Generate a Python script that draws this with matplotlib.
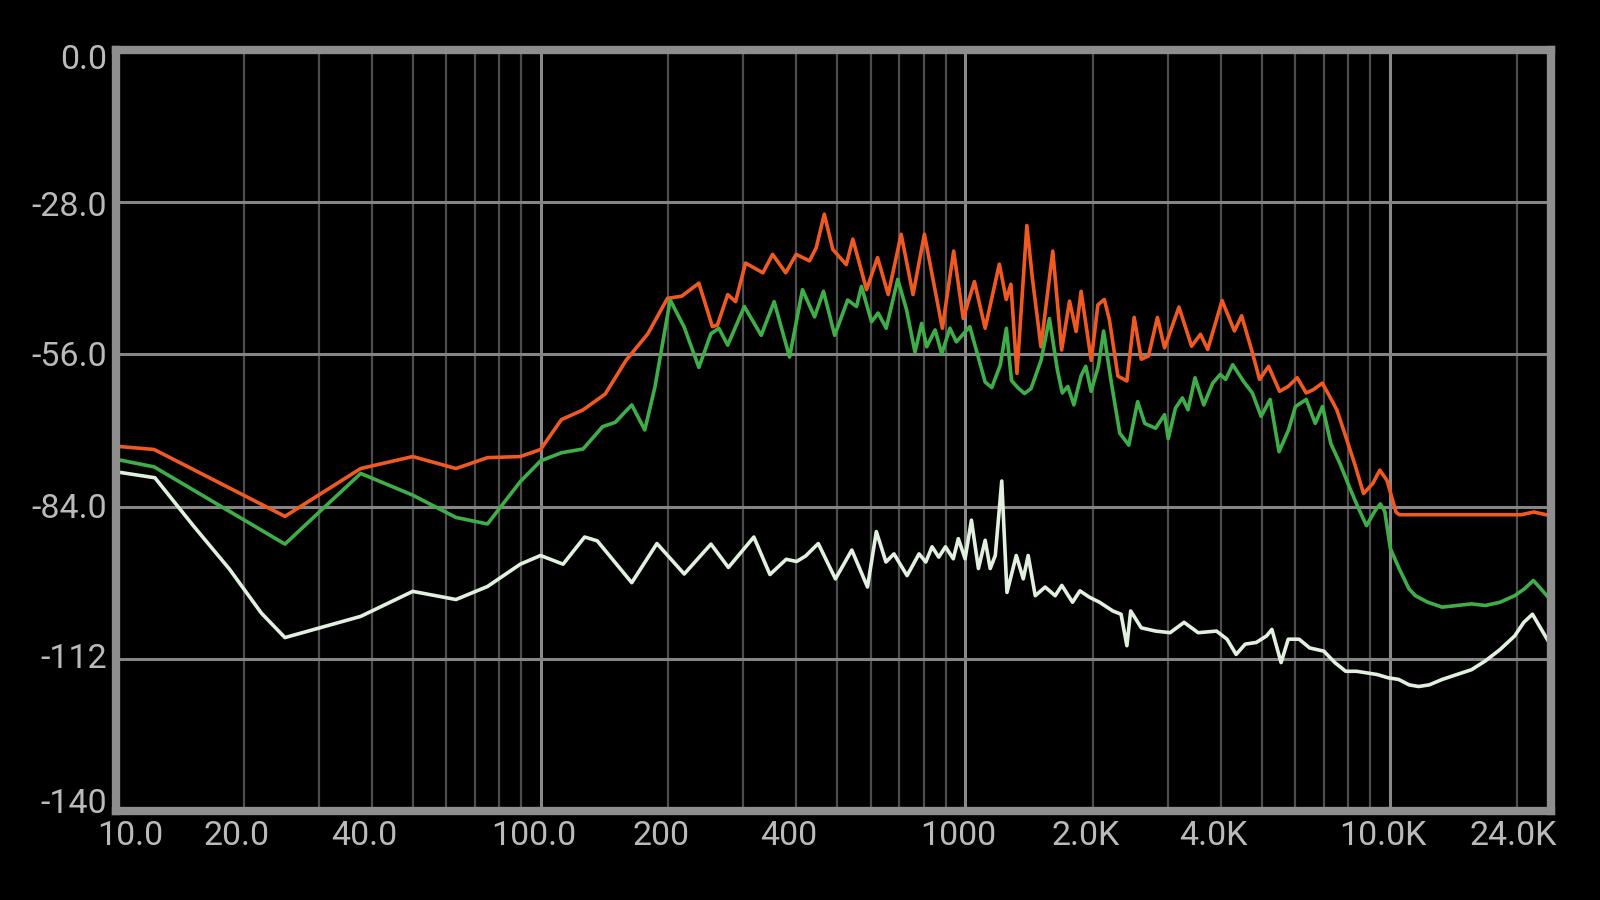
import matplotlib
matplotlib.use("Agg")
import matplotlib.pyplot as plt

# spectrum traces: frequency (Hz) and level (dB)
red_hz = [10, 12.3, 25, 37.7, 50, 63.2, 75, 89.6, 100, 112, 126, 142, 159, 179, 199, 215, 236, 254, 261, 276,
          288, 304, 334, 352, 378, 400, 430, 446, 466, 488, 525, 544, 586, 622, 659, 707, 754, 802, 884, 940,
          990, 1052, 1115, 1204, 1250, 1282, 1325, 1398, 1440, 1509, 1609, 1688, 1762, 1826, 1876, 1982, 2055,
          2128, 2187, 2291, 2405, 2502, 2600, 2704, 2838, 2950, 3190, 3416, 3585, 3728, 4030, 4309, 4482, 4751,
          4938, 5188, 5505, 5768, 6057, 6360, 6609, 6940, 7220, 7510, 7880, 8270, 8680, 9120, 9480, 9860,
          10350, 10540, 20400, 21860, 24000]
red_db = [-72.9, -73.5, -85.8, -77.0, -74.8, -77.0, -75.0, -74.8, -73.5, -68.0, -66.2, -63.3, -57.1, -52.2,
          -45.7, -45.3, -42.9, -50.9, -50.6, -45.0, -46.3, -39.2, -41.0, -37.6, -41.0, -37.6, -38.8, -36.4,
          -30.2, -36.7, -39.5, -34.8, -44.1, -38.2, -45.0, -33.9, -45.0, -33.9, -51.2, -37.0, -49.4, -42.6,
          -51.2, -39.4, -45.9, -43.1, -59.5, -32.3, -41.9, -54.6, -37.0, -55.2, -46.2, -51.8, -44.4, -57.1,
          -46.9, -45.9, -49.6, -60.0, -60.9, -49.2, -56.9, -56.3, -49.2, -54.8, -47.3, -54.5, -52.3, -55.1,
          -46.1, -51.7, -48.9, -55.7, -60.6, -58.2, -62.8, -61.9, -60.3, -63.1, -62.5, -61.3, -63.7, -66.2,
          -71.1, -76.1, -81.6, -79.8, -77.3, -79.2, -85.0, -85.5, -85.5, -85.0, -85.7]

green_hz = [10, 12.3, 25, 37.7, 50, 63.2, 75, 89.6, 100, 112, 126, 140, 150, 164, 176, 186, 202, 218, 236,
            252, 263, 276, 302, 331, 355, 386, 414, 442, 464, 493, 529, 555, 570, 602, 624, 652, 694, 728,
            762, 790, 812, 850, 881, 921, 954, 1026, 1115, 1156, 1210, 1251, 1286, 1330, 1380, 1430, 1510,
            1580, 1650, 1694, 1746, 1804, 1875, 1924, 1981, 2060, 2120, 2204, 2314, 2430, 2550, 2650, 2810,
            2950, 3010, 3130, 3250, 3350, 3480, 3650, 3830, 3990, 4110, 4270, 4530, 4750, 4980, 5230, 5490,
            5780, 6000, 6360, 6680, 6950, 7270, 7640, 8010, 8420, 8820, 9250, 9510, 9740, 10040, 10530,
            11100, 11500, 12300, 13300, 14400, 15600, 16800, 18200, 19700, 20800, 21800, 22700, 24000]
green_db = [-75.3, -76.7, -90.9, -77.9, -81.9, -86.0, -87.2, -79.4, -75.6, -74.1, -73.4, -69.3, -68.5,
            -65.3, -69.9, -62.0, -46.0, -51.0, -58.4, -52.2, -51.2, -54.3, -47.2, -52.5, -46.3, -56.5,
            -44.1, -49.1, -44.4, -52.5, -46.0, -47.2, -43.5, -50.0, -48.4, -51.2, -42.2, -47.8, -55.6,
            -50.3, -54.6, -51.5, -55.9, -51.2, -53.7, -50.9, -61.1, -62.1, -58.0, -51.2, -60.8, -62.1,
            -63.2, -62.3, -57.1, -49.4, -58.9, -63.1, -61.9, -65.3, -60.0, -58.2, -62.8, -58.2, -51.7,
            -60.6, -70.5, -72.7, -64.7, -68.7, -69.6, -67.1, -71.5, -65.9, -64.0, -66.2, -60.3, -65.3,
            -61.3, -59.7, -60.6, -57.9, -61.0, -63.1, -67.4, -64.3, -73.9, -69.9, -65.6, -64.3, -68.7,
            -65.6, -72.4, -76.1, -80.1, -84.1, -87.5, -84.7, -83.5, -84.9, -91.7, -95.4, -99.1, -100.4,
            -101.6, -102.5, -102.2, -101.9, -102.2, -101.6, -100.4, -99.1, -97.6, -99.1, -101.3]

white_hz = [10, 12.35, 15.2, 18.5, 22, 25, 37.7, 50, 63.2, 75, 89.6, 100, 113, 127, 136, 164, 188, 218, 252,
            277, 318, 347, 379, 401, 421, 451, 495, 541, 589, 618, 651, 680, 730, 779, 808, 836, 867, 899,
            938, 964, 1000, 1035, 1075, 1115, 1146, 1178, 1220, 1255, 1320, 1371, 1408, 1463, 1544, 1630,
            1690, 1791, 1864, 1965, 2074, 2228, 2330, 2405, 2455, 2600, 2810, 3040, 3280, 3540, 3910, 4140,
            4350, 4570, 4850, 5130, 5280, 5550, 5770, 6120, 6480, 7000, 7430, 7880, 8360, 8840, 9350, 9920,
            10500, 11120, 11700, 12400, 13300, 14400, 15600, 16800, 18200, 19700, 20700, 21700, 22500, 24000]
white_db = [-77.6, -78.7, -87.5, -95.5, -103.6, -108.1, -104.2, -99.6, -101.1, -98.7, -94.6, -93.0, -94.6,
            -89.6, -90.3, -98.0, -90.8, -96.4, -90.9, -95.2, -89.6, -96.5, -93.7, -94.1, -93.1, -90.8,
            -97.3, -92.0, -98.8, -88.6, -94.2, -92.7, -96.7, -92.7, -94.2, -91.4, -93.3, -91.4, -93.6,
            -89.9, -93.6, -86.5, -95.4, -90.2, -95.4, -93.0, -79.3, -99.8, -93.0, -97.3, -93.0, -100.4,
            -98.8, -100.4, -98.5, -101.6, -99.5, -100.7, -101.6, -103.2, -103.8, -109.6, -103.2, -106.3,
            -106.9, -107.2, -105.3, -107.2, -106.9, -108.4, -111.2, -109.3, -109.0, -107.8, -106.6, -112.7,
            -108.4, -108.4, -110.0, -110.6, -112.7, -114.3, -114.3, -114.6, -114.9, -115.5, -115.8, -116.8,
            -117.1, -116.8, -115.8, -114.9, -114.0, -112.4, -110.3, -107.8, -105.3, -103.8, -105.9, -109.6]

# axis labelling
y_levels = [0, -28, -56, -84, -112, -140]
y_labels = ["0.0", "-28.0", "-56.0", "-84.0", "-112", "-140"]
x_ticks = [10, 20, 40, 100, 200, 400, 1000, 2000, 4000, 10000, 24000]
x_labels = ["10.0", "20.0", "40.0", "100.0", "200", "400", "1000", "2.0K", "4.0K", "10.0K", "24.0K"]

plt.rcParams['font.family'] = ['Roboto', 'DejaVu Sans']
txt_color = '#bababa'
frame_color = '#8e8e8e'

fig = plt.figure(figsize=(16, 9), dpi=100, facecolor='black')
ax = fig.add_axes([0.0725, 0.0989, 0.8969, 0.8456])
ax.set_facecolor('black')
ax.set_xscale('log')
ax.set_xlim(10, 24000)
ax.set_ylim(-140, 0)
ax.tick_params(which='both', length=0, labelbottom=False, labelleft=False)

# grid: thin lines for 2..9 of each decade, brighter ones on decades
for dec in [10, 100, 1000, 10000]:
    for m in range(2, 10):
        f = dec * m
        if f < 24000:
            ax.axvline(f, color='#4d4d4d', lw=1.6, zorder=1)
for f in [100, 1000, 10000]:
    ax.axvline(f, color='#8a8a8a', lw=2.2, zorder=1)
for lev in y_levels[1:-1]:
    ax.axhline(lev, color='#858585', lw=2.2, zorder=1)

line_kw = dict(lw=2.6, solid_joinstyle='round', solid_capstyle='round')
ax.plot(red_hz, red_db, color='#f05a22', zorder=3, **line_kw)
ax.plot(green_hz, green_db, color='#3fae49', zorder=4, **line_kw)
ax.plot(white_hz, white_db, color='#e2f0e0', zorder=5, **line_kw)

for s in ax.spines.values():
    s.set_color(frame_color)
    s.set_linewidth(6)
    s.set_zorder(6)

# y labels, right aligned just outside the frame
y_shift = [-10, -5, -3, -2, 0, 7]
for lev, lab, dy in zip(y_levels, y_labels, y_shift):
    ax.annotate(lab, xy=(0, lev), xycoords=('axes fraction', 'data'), xytext=(-9, dy),
                textcoords='offset pixels', ha='right', va='center', fontsize=24.5, color=txt_color)

# x labels under the frame
for f, lab in zip(x_ticks, x_labels):
    ha, dx = 'center', -7
    if f == 10:
        ha, dx = 'left', -19
    elif f == 24000:
        ha, dx = 'right', 6
    ax.annotate(lab, xy=(f, 0), xycoords=('data', 'axes fraction'), xytext=(dx, -25),
                textcoords='offset pixels', ha=ha, va='center', fontsize=24.5, color=txt_color)

fig.savefig('out.png', dpi=100, facecolor='black')
